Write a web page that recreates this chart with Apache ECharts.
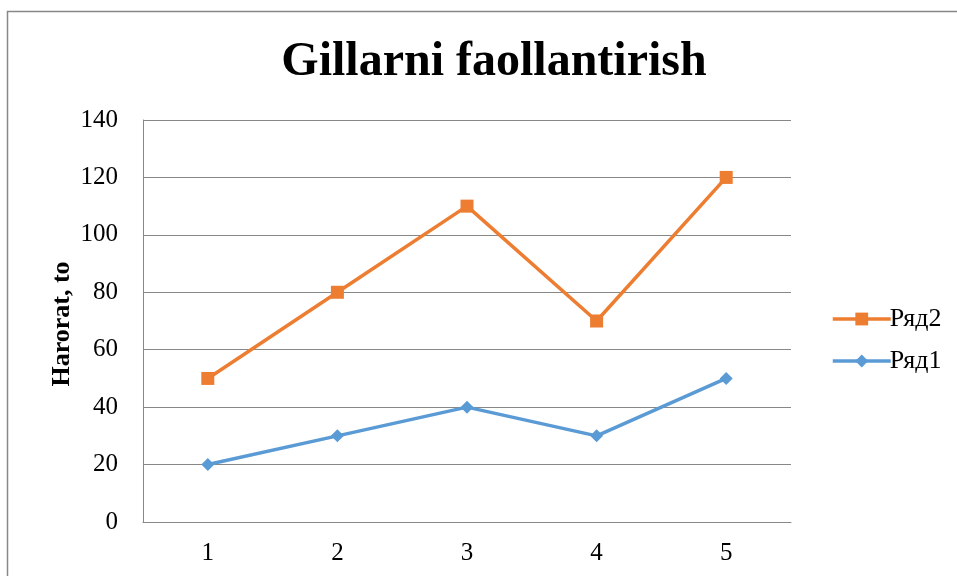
<!DOCTYPE html>
<html><head><meta charset="utf-8">
<script src="https://cdn.jsdelivr.net/npm/echarts@6/dist/echarts.min.js"></script>
<style>html,body{margin:0;padding:0;background:#fff}#c{width:957px;height:576px}</style>
</head><body><div id="c"></div>
<script>
var categories = ['1','2','3','4','5'];
var seriesNames = ['Ряд1','Ряд2'];
var ryad1 = [20,30,40,30,50];
var ryad2 = [50,80,110,70,120];
var yTicks = {min:0,max:140,interval:20};
var titleText = 'Gillarni faollantirish';
var yAxisName = 'Harorat, to';

var font = '"Liberation Serif","Times New Roman",serif';
var chart = echarts.init(document.getElementById('c'), null, {renderer:'canvas'});
chart.setOption({
  backgroundColor:'#fff',
  animation:false,
  graphic:[
    {type:'rect',shape:{x:7.5,y:11.5,width:1000,height:700},style:{fill:'none',stroke:'#888',lineWidth:1.5},z:-1},
    {type:'text',x:62,y:324,rotation:Math.PI/2,
      style:{text:yAxisName,fontFamily:font,fontWeight:'bold',fontSize:26,fill:'#000',align:'center',verticalAlign:'middle'}}
  ],
  title:{text:titleText,left:489,top:34,textAlign:'center',textStyle:{fontFamily:font,fontWeight:'bold',fontSize:48,color:'#000'}},
  legend:{orient:'vertical',left:826,top:301,itemGap:16,itemWidth:58,itemHeight:16,
    data:[seriesNames[1],seriesNames[0]],
    lineStyle:{width:3.5},
    textStyle:{fontFamily:font,fontSize:26,color:'#000',padding:[0,0,0,-6]}},
  grid:{left:143,right:166,top:120,bottom:54,containLabel:false},
  xAxis:{type:'category',data:categories,boundaryGap:true,
    axisLine:{lineStyle:{color:'#888',width:1}},axisTick:{show:false},
    axisLabel:{fontFamily:font,fontSize:25,color:'#000',margin:19}},
  yAxis:{type:'value',min:yTicks.min,max:yTicks.max,interval:yTicks.interval,
    axisLine:{show:true,lineStyle:{color:'#888',width:1}},axisTick:{show:false},
    splitLine:{lineStyle:{color:'#888',width:1}},
    axisLabel:{fontFamily:font,fontSize:25,color:'#000',margin:25}},
  series:[
    {name:seriesNames[0],type:'line',data:ryad1,symbol:'diamond',symbolSize:13,
      lineStyle:{color:'#5B9BD5',width:3.5},itemStyle:{color:'#5B9BD5'}},
    {name:seriesNames[1],type:'line',data:ryad2,symbol:'rect',symbolSize:13,
      lineStyle:{color:'#ED7D31',width:3.5},itemStyle:{color:'#ED7D31'}}
  ]
});
</script></body></html>
